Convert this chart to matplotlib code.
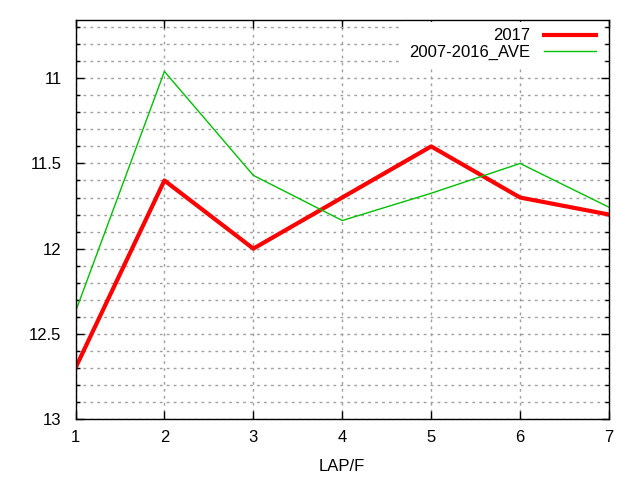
import numpy as np
import matplotlib.pyplot as plt
from matplotlib.ticker import MultipleLocator

plt.rcParams['font.family'] = ['Liberation Sans', 'DejaVu Sans']

laps = [1, 2, 3, 4, 5, 6, 7]
times2017 = [12.7, 11.6, 12.0, 11.7, 11.4, 11.7, 11.8]
timesAve = [12.37, 10.96, 11.57, 11.835, 11.675, 11.5, 11.757]

fig = plt.figure(figsize=(6.4, 4.8), dpi=100)
ax = fig.add_axes([75.5 / 640, 1 - 419 / 480, (609 - 75.5) / 640, (419 - 20) / 480])

ax.plot(laps, times2017, color='#ff0000', linewidth=3, label='2017')
ax.plot(laps, timesAve, color='#00c000', linewidth=1, label='2007-2016_AVE')

ax.set_xlim(1, 7)
ax.set_ylim(13, 10.658)
ax.xaxis.set_major_locator(MultipleLocator(1))
ax.yaxis.set_major_locator(MultipleLocator(0.5))
ax.yaxis.set_minor_locator(MultipleLocator(0.1))
ax.yaxis.set_major_formatter(plt.FuncFormatter(lambda v, p: f"{v:g}"))

ax.grid(True, which='both', axis='y', color='#a0a0a0', linestyle=(0, (2, 3)), linewidth=1)
ax.grid(True, which='major', axis='x', color='#a0a0a0', linestyle=(0, (2, 3)), linewidth=1)

ax.tick_params(which='both', direction='in', top=True, right=True, labelsize=12)
ax.tick_params(axis='x', pad=8)
ax.tick_params(axis='y', pad=10)
ax.tick_params(which='major', length=6, width=1)
ax.tick_params(which='minor', length=3, width=1)
for s in ax.spines.values():
    s.set_linewidth(1)

ax.set_xlabel('LAP/F', fontsize=12, labelpad=10)

leg = ax.legend(loc='upper right', bbox_to_anchor=(1 - 5 / 533.5, 1), frameon=True, fontsize=12,
                markerfirst=False, handlelength=3.1, borderaxespad=0.1, labelspacing=0.1,
                handletextpad=0.84)
leg.get_frame().set_edgecolor('white')
leg.get_frame().set_facecolor('white')
leg.get_frame().set_alpha(1)
leg.get_frame().set_boxstyle('square', pad=0)
for t in leg.get_texts():
    t.set_ha('right')

fig.savefig('out.png', dpi=100)
